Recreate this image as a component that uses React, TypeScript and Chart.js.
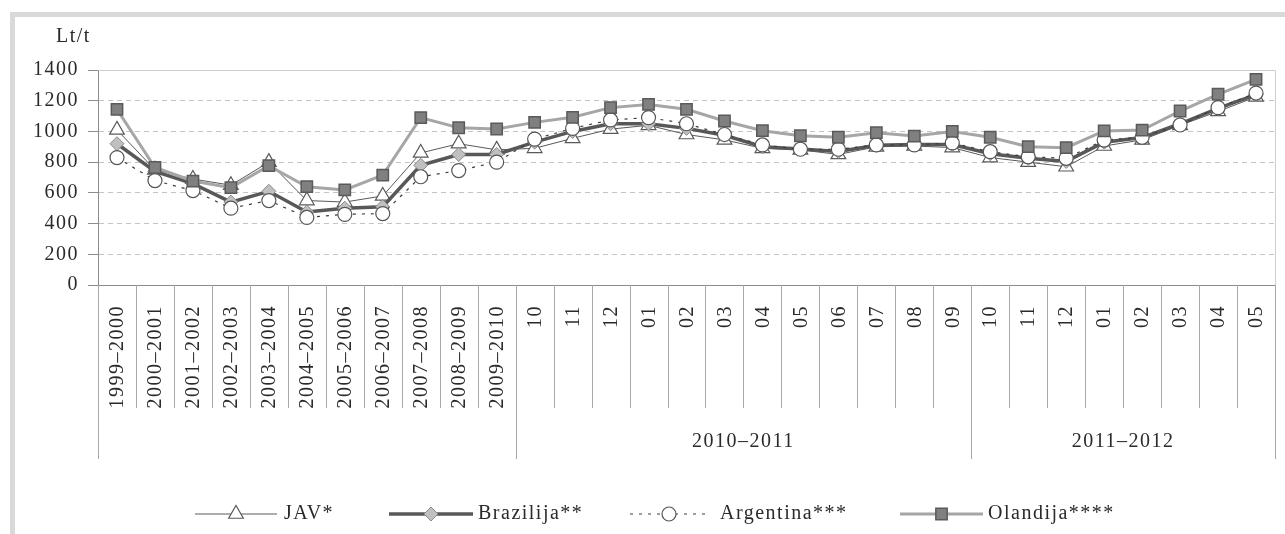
import React, { useEffect, useRef } from 'react';
import { Chart, registerables } from 'chart.js';

Chart.register(...registerables);

// ---- data ----
const seasonLabels = ['1999–2000', '2000–2001', '2001–2002', '2002–2003', '2003–2004', '2004–2005', '2005–2006', '2006–2007', '2007–2008', '2008–2009', '2009–2010'];
const months2010_2011 = ['10', '11', '12', '01', '02', '03', '04', '05', '06', '07', '08', '09'];
const months2011_2012 = ['10', '11', '12', '01', '02', '03', '04', '05'];
const groupLabels = ['', '2010–2011', '2011–2012'];
const categories = [...seasonLabels, ...months2010_2011, ...months2011_2012];

const yTitle = 'Lt/t';
const seriesNames = ['JAV*', 'Brazilija**', 'Argentina***', 'Olandija****'];

const javValues = [1010, 750, 690, 650, 800, 550, 540, 580, 860, 920, 880, 890, 955, 1015, 1040, 980, 945, 890, 880, 850, 900, 905, 895, 830, 800, 770, 905, 945, 1040, 1130, 1225];
const brazilValues = [920, 740, 660, 540, 610, 475, 500, 510, 780, 850, 850, 930, 1000, 1050, 1050, 1020, 975, 900, 885, 870, 910, 915, 915, 855, 825, 805, 930, 960, 1050, 1150, 1240];
const argentinaValues = [830, 680, 615, 500, 550, 440, 460, 465, 705, 745, 800, 950, 1020, 1075, 1090, 1050, 980, 912, 884, 884, 912, 912, 925, 868, 835, 825, 944, 962, 1042, 1155, 1250];
const olandijaValues = [1144, 765, 677, 634, 777, 640, 619, 716, 1090, 1024, 1016, 1059, 1092, 1155, 1176, 1144, 1068, 1005, 972, 962, 992, 970, 1000, 962, 901, 894, 1003, 1009, 1133, 1242, 1339];

const yMin = 0;
const yMax = 1400;
const yStep = 200;

// ---- styles ----
const FONT = '"Liberation Serif", "Times New Roman", serif';
const TEXT = '#2a2a2a';
const AXIS = '#8c8c8c';
const SPACING = '1.5px';

const styles = [
  { line: '#5a5a5a', width: 1, dash: [] as number[], point: 'triangle', r: 8.5, fill: '#ffffff', stroke: '#5a5a5a', pw: 1.2 },
  { line: '#585858', width: 3.5, dash: [] as number[], point: 'rectRot', r: 7, fill: '#c0c0c0', stroke: '#8a8a8a', pw: 1 },
  { line: '#3c3c3c', width: 1.2, dash: [3, 6], point: 'circle', r: 7, fill: '#ffffff', stroke: '#555555', pw: 1.2 },
  { line: '#a6a6a6', width: 3, dash: [] as number[], point: 'rect', r: 8, fill: '#808080', stroke: '#5a5a5a', pw: 1.5 },
];

const legendPos = [
  { x1: 195, x2: 277, tx: 284 },
  { x1: 389, x2: 473, tx: 478 },
  { x1: 630, x2: 708, tx: 720 },
  { x1: 900, x2: 983, tx: 988 },
];

function drawMarker(ctx: CanvasRenderingContext2D, kind: string, x: number, y: number, r: number, fill: string, stroke: string, lw: number) {
  ctx.save();
  ctx.beginPath();
  if (kind === 'triangle') {
    let rad = 0;
    ctx.moveTo(x + Math.sin(rad) * r, y - Math.cos(rad) * r);
    rad += (2 * Math.PI) / 3;
    ctx.lineTo(x + Math.sin(rad) * r, y - Math.cos(rad) * r);
    rad += (2 * Math.PI) / 3;
    ctx.lineTo(x + Math.sin(rad) * r, y - Math.cos(rad) * r);
    ctx.closePath();
  } else if (kind === 'rectRot') {
    ctx.moveTo(x - r, y);
    ctx.lineTo(x, y - r);
    ctx.lineTo(x + r, y);
    ctx.lineTo(x, y + r);
    ctx.closePath();
  } else if (kind === 'circle') {
    ctx.arc(x, y, r, 0, Math.PI * 2);
  } else {
    const s = Math.SQRT1_2 * r;
    ctx.rect(x - s, y - s, 2 * s, 2 * s);
  }
  ctx.fillStyle = fill;
  ctx.fill();
  ctx.lineWidth = lw;
  ctx.strokeStyle = stroke;
  ctx.setLineDash([]);
  ctx.stroke();
  ctx.restore();
}

const decorPlugin = {
  id: 'decor',
  beforeDraw(chart: any) {
    const ctx = chart.ctx as CanvasRenderingContext2D;
    ctx.save();
    ctx.fillStyle = '#ffffff';
    ctx.fillRect(0, 0, chart.width, chart.height);
    ctx.strokeStyle = '#d9d9d9';
    ctx.lineWidth = 5;
    ctx.strokeRect(12.5, 14.5, chart.width + 40, chart.height + 40);
    ctx.restore();
    (ctx as any).letterSpacing = SPACING;
  },
  beforeDatasetsDraw(chart: any) {
    const ctx = chart.ctx as CanvasRenderingContext2D;
    const a = chart.chartArea;
    ctx.save();
    ctx.strokeStyle = '#cfcfcf';
    ctx.lineWidth = 1;
    ctx.beginPath();
    ctx.moveTo(Math.round(a.left) + 0.5, Math.round(a.top) + 0.5);
    ctx.lineTo(Math.round(a.right) + 0.5, Math.round(a.top) + 0.5);
    ctx.lineTo(Math.round(a.right) + 0.5, Math.round(a.bottom) + 0.5);
    ctx.stroke();
    ctx.restore();
  },
  afterDraw(chart: any) {
    const ctx = chart.ctx as CanvasRenderingContext2D;
    const a = chart.chartArea;
    const xs = chart.scales.x;
    const n = categories.length;
    const w = (a.right - a.left) / n;
    const groupStarts = [0, seasonLabels.length, seasonLabels.length + months2010_2011.length, n];
    ctx.save();
    (ctx as any).letterSpacing = SPACING;
    // separators
    ctx.strokeStyle = '#a8a8a8';
    ctx.lineWidth = 1;
    for (let i = 0; i <= n; i++) {
      const bx = Math.round(xs.getPixelForValue(Math.min(i, n - 1)) + (i === n ? w / 2 : -w / 2)) + 0.5;
      const isGroup = groupStarts.indexOf(i) >= 0;
      ctx.beginPath();
      ctx.moveTo(bx, a.bottom);
      ctx.lineTo(bx, isGroup ? a.bottom + 174 : a.bottom + 123);
      ctx.stroke();
    }
    // category labels (rotated)
    ctx.fillStyle = TEXT;
    ctx.font = `20px ${FONT}`;
    for (let i = 0; i < n; i++) {
      const px = xs.getPixelForValue(i);
      ctx.save();
      ctx.translate(px + 1, a.bottom + 20);
      ctx.rotate(-Math.PI / 2);
      ctx.textAlign = 'right';
      ctx.textBaseline = 'middle';
      ctx.fillText(categories[i], 0, 0);
      ctx.restore();
    }
    // group labels
    ctx.textAlign = 'center';
    ctx.textBaseline = 'middle';
    for (let g = 0; g < groupLabels.length; g++) {
      if (!groupLabels[g]) continue;
      const s = groupStarts[g];
      const e = groupStarts[g + 1];
      const cx = (xs.getPixelForValue(s) + xs.getPixelForValue(e - 1)) / 2;
      ctx.fillText(groupLabels[g], cx, a.bottom + 157);
    }
    // y title
    ctx.textAlign = 'left';
    ctx.fillText(yTitle, 56, 37);
    // legend
    const ly = 514;
    for (let k = 0; k < seriesNames.length; k++) {
      const st = styles[k];
      const p = legendPos[k];
      ctx.save();
      ctx.strokeStyle = st.line;
      ctx.lineWidth = st.width;
      ctx.setLineDash(st.dash);
      ctx.beginPath();
      ctx.moveTo(p.x1, ly);
      ctx.lineTo(p.x2, ly);
      ctx.stroke();
      ctx.restore();
      drawMarker(ctx, st.point, (p.x1 + p.x2) / 2, ly, st.r, st.fill, st.stroke, st.pw);
      ctx.fillStyle = TEXT;
      ctx.textAlign = 'left';
      ctx.textBaseline = 'middle';
      ctx.fillText(seriesNames[k], p.tx, ly);
    }
    ctx.restore();
    (ctx as any).letterSpacing = '0px';
  },
};

export default function App() {
  const ref = useRef<HTMLCanvasElement | null>(null);
  useEffect(() => {
    if (!ref.current) return;
    const seriesValues = [javValues, brazilValues, argentinaValues, olandijaValues];
    const chart = new Chart(ref.current, {
      type: 'line',
      data: {
        labels: categories,
        datasets: seriesValues.map((vals, k) => ({
          label: seriesNames[k],
          data: vals,
          borderColor: styles[k].line,
          borderWidth: styles[k].width,
          borderDash: styles[k].dash,
          pointStyle: styles[k].point as any,
          pointRadius: styles[k].r,
          pointBackgroundColor: styles[k].fill,
          pointBorderColor: styles[k].stroke,
          pointBorderWidth: styles[k].pw,
          tension: 0,
          fill: false,
          order: 4 - k,
        })),
      },
      options: {
        responsive: false,
        animation: false,
        layout: { padding: { left: 10, top: 70, right: 10, bottom: 0 } },
        plugins: { legend: { display: false }, tooltip: { enabled: false } },
        scales: {
          x: {
            type: 'category',
            offset: true,
            afterFit: (s: any) => { s.height = 249; },
            ticks: { display: false },
            grid: { display: true, color: 'rgba(0,0,0,0)', drawTicks: false, drawOnChartArea: false },
            border: { display: true, color: AXIS, width: 1 },
          },
          y: {
            min: yMin,
            max: yMax,
            afterFit: (s: any) => { s.width = 88; },
            ticks: {
              stepSize: yStep,
              color: TEXT,
              font: { family: FONT, size: 20 },
              padding: 9,
              callback: (v: any) => String(v),
            },
            grid: {
              color: (c: any) => (c.tick && (c.tick.value === yMin || c.tick.value === yMax) ? 'rgba(0,0,0,0)' : '#c4c4c4'),
              tickColor: AXIS,
              tickLength: 10,
              lineWidth: 1,
            },
            border: { display: true, color: AXIS, width: 1, dash: [5, 4] },
          },
        },
      },
      plugins: [decorPlugin],
    } as any);
    return () => chart.destroy();
  }, []);
  return (
    <div style={{ position: 'absolute', left: 0, top: 0, width: 1285, height: 534 }}>
      <canvas ref={ref} width={1285} height={534} style={{ width: 1285, height: 534 }} />
    </div>
  );
}
